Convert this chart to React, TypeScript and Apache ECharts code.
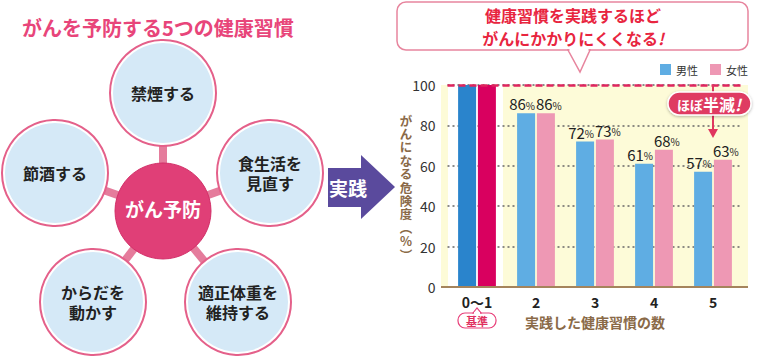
import React, { useEffect, useRef } from "react";
import * as echarts from "echarts";

const categories = ["0〜1", "2", "3", "4", "5"];
const maleValues = [100, 86, 72, 61, 57];
const femaleValues = [100, 86, 73, 68, 63];
const seriesNames = ["男性", "女性"];
const yTicks = { min: 0, max: 100, interval: 20 };
const habits = ["禁煙する", "食生活を\n見直す", "適正体重を\n維持する", "からだを\n動かす", "節酒する"];
const yTitleChars = ["が", "ん", "に", "な", "る", "危", "険", "度", "︵", "%", "︶"];

const FONT = '"Noto Sans CJK JP", "Noto Sans", sans-serif';
const BROWN = "#8a6a48";

export default function App() {
  const ref = useRef<HTMLDivElement>(null);
  useEffect(() => {
    if (!ref.current) return;
    const chart = echarts.init(ref.current, null, { renderer: "svg" });

    const center = { x: 163, y: 211 };
    const outer = [
      { x: 163, y: 93 },
      { x: 270, y: 173 },
      { x: 238, y: 302 },
      { x: 93, y: 302 },
      { x: 55, y: 173 },
    ];
    const g: any[] = [];
    g.push({
      type: "text", x: 22, y: 27,
      style: { text: "がんを予防する5つの健康習慣", fill: "#e8457a", font: `bold 20px ${FONT}`, textVerticalAlign: "middle" },
    });
    outer.forEach((o) => {
      g.push({ type: "line", shape: { x1: center.x, y1: center.y, x2: o.x, y2: o.y }, style: { stroke: "#e57c9c", lineWidth: 8 } });
    });
    outer.forEach((o, i) => {
      g.push({ type: "circle", shape: { cx: o.x, cy: o.y, r: 53 }, style: { fill: "#fff", stroke: "#e4608a", lineWidth: 2 } });
      g.push({ type: "circle", shape: { cx: o.x, cy: o.y, r: 50 }, style: { fill: "#d5e9f7" } });
      g.push({
        type: "text", x: o.x, y: o.y,
        style: { text: habits[i], fill: "#222", font: `bold 16px ${FONT}`, align: "center", verticalAlign: "middle", lineHeight: 20 },
      });
    });
    g.push({ type: "circle", shape: { cx: center.x, cy: center.y, r: 48 }, style: { fill: "#e03f77", stroke: "#d22f68", lineWidth: 1 } });
    g.push({
      type: "text", x: center.x, y: center.y - 3,
      style: { text: "がん予防", fill: "#fff", font: `bold 19px ${FONT}`, align: "center", verticalAlign: "middle" },
    });
    g.push({
      type: "polygon",
      shape: { points: [[328, 168], [361, 168], [361, 155], [395, 187], [361, 219], [361, 207], [328, 207]] },
      style: { fill: "#5a4a9d" },
    });
    g.push({
      type: "text", x: 348, y: 187,
      style: { text: "実践", fill: "#fff", font: `bold 19px ${FONT}`, align: "center", verticalAlign: "middle" },
    });
    g.push({ type: "rect", shape: { x: 397, y: 2, width: 351, height: 48, r: 9 }, style: { fill: "#fff", stroke: "#e7859e", lineWidth: 1.5 } });
    g.push({ type: "polygon", shape: { points: [[568, 50], [590, 50], [580, 72]] }, style: { fill: "#fff", stroke: "#e7859e", lineWidth: 1.5 } });
    g.push({ type: "line", shape: { x1: 569.5, y1: 50, x2: 588.5, y2: 50 }, style: { stroke: "#fff", lineWidth: 3 } });
    g.push({
      type: "text", x: 573, y: 26,
      style: {
        text: "{a|健康習慣を実践するほど}\n{a|がんにかかりにくくなる}{b|!}",
        align: "center", verticalAlign: "middle",
        rich: {
          a: { fill: "#e8253f", fontFamily: FONT, fontWeight: "bold", fontSize: 16, lineHeight: 23 },
          b: { fill: "#e8253f", fontFamily: FONT, fontWeight: "bold", fontStyle: "italic", fontSize: 16, lineHeight: 23 },
        },
      },
    });
    g.push({ type: "rect", z: -10, shape: { x: 441, y: 85, width: 307, height: 202 }, style: { fill: "#fdfbd8" } });
    g.push({ type: "rect", z: -9, shape: { x: 448, y: 85, width: 55, height: 202 }, style: { fill: "#fff" } });
    g.push({ type: "line", z: 5, shape: { x1: 441, y1: 287, x2: 748, y2: 287 }, style: { stroke: "#a5845c", lineWidth: 2 } });
    g.push({ type: "rect", z: 5, shape: { x: 458, y: 313, width: 38, height: 15, r: 7 }, style: { fill: "#fff", stroke: "#e8407a", lineWidth: 1.2 } });
    g.push({ type: "polygon", z: 5, shape: { points: [[473, 313], [477, 308], [481, 313]] }, style: { fill: "#fff", stroke: "#e8407a", lineWidth: 1.2 } });
    g.push({ type: "line", z: 6, shape: { x1: 474, y1: 313, x2: 480, y2: 313 }, style: { stroke: "#fff", lineWidth: 2 } });
    g.push({
      type: "text", z: 7, x: 477, y: 321,
      style: { text: "基準", fill: "#e0305f", font: `bold 11px ${FONT}`, align: "center", verticalAlign: "middle" },
    });
    g.push({ type: "line", z: 8, shape: { x1: 713, y1: 85, x2: 713, y2: 131 }, style: { stroke: "#e0365f", lineWidth: 2 } });
    g.push({ type: "polygon", z: 8, shape: { points: [[708, 129], [718, 129], [713, 138]] }, style: { fill: "#e0365f" } });
    g.push({
      type: "rect", z: 9, shape: { x: 668, y: 92, width: 83, height: 23, r: 11.5 },
      style: { fill: "#df3a62", stroke: "#fff", lineWidth: 1.5, shadowBlur: 3, shadowColor: "rgba(0,0,0,0.3)", shadowOffsetY: 1 },
    });
    g.push({
      type: "text", z: 10, x: 709, y: 104,
      style: {
        text: "{a|ほぼ}{b|半減}{c|!}", align: "center", verticalAlign: "middle",
        rich: {
          a: { fill: "#fff", fontFamily: FONT, fontWeight: "bold", fontSize: 13 },
          b: { fill: "#fff", fontFamily: FONT, fontWeight: "bold", fontSize: 16 },
          c: { fill: "#fff", fontFamily: FONT, fontWeight: "bold", fontStyle: "italic", fontSize: 16 },
        },
      },
    });
    const step = 13.4;
    const top = 187 - (step * (yTitleChars.length - 1)) / 2;
    yTitleChars.forEach((ch, i) => {
      g.push({
        type: "text", x: 406, y: top + i * step,
        style: { text: ch, fill: BROWN, font: `bold 12.5px ${FONT}`, align: "center", verticalAlign: "middle" },
      });
    });

    const labelFmt = (p: any) => (p.dataIndex === 0 ? "" : `{n|${p.value}}{p|%}`);
    const rich = {
      n: { fontSize: 15, color: "#222", fontFamily: FONT },
      p: { fontSize: 10, color: "#222", fontFamily: FONT, padding: [3, 0, 0, 0] },
    };

    chart.setOption({
      animation: false,
      textStyle: { fontFamily: FONT },
      grid: { left: 447.5, right: 17.5, top: 85, bottom: 71 },
      legend: {
        data: seriesNames, right: 12, top: 64, padding: 0, icon: "rect", itemWidth: 11, itemHeight: 11, itemGap: 12,
        textStyle: { fontSize: 11, color: "#333", fontFamily: FONT },
      },
      xAxis: {
        type: "category", data: categories,
        axisLine: { lineStyle: { color: "#a5845c", width: 2 } },
        axisTick: { show: false },
        axisLabel: { fontSize: 14, fontWeight: "bold", color: "#222", margin: 8 },
        name: "実践した健康習慣の数", nameLocation: "middle", nameGap: 28,
        nameTextStyle: { fontSize: 14, fontWeight: "bold", color: BROWN },
      },
      yAxis: {
        type: "value", min: yTicks.min, max: yTicks.max, interval: yTicks.interval,
        axisLine: { show: false }, axisTick: { show: false },
        axisLabel: { fontSize: 14, color: "#333", margin: 12 },
        splitLine: { lineStyle: { color: "#666", type: [2, 3], width: 1.5 } },
      },
      series: [
        {
          name: seriesNames[0], type: "bar", barWidth: 18, barGap: "10%",
          itemStyle: { color: "#5fade3" },
          data: maleValues.map((v, i) => (i === 0 ? { value: v, itemStyle: { color: "#2a84cc" } } : v)),
          label: { show: true, position: "top", distance: 2, offset: [-4, 0], formatter: labelFmt, rich },
          markLine: {
            silent: true, symbol: "none", label: { show: false },
            lineStyle: { color: "#e0245e", type: [7, 4], width: 2.5 },
            data: [{ yAxis: 100 }],
          },
        },
        {
          name: seriesNames[1], type: "bar", barWidth: 18,
          itemStyle: { color: "#ee98b4" },
          data: femaleValues.map((v, i) => (i === 0 ? { value: v, itemStyle: { color: "#d9005f" } } : v)),
          label: { show: true, position: "top", distance: 2, offset: [3, 0], formatter: labelFmt, rich },
        },
      ],
      graphic: g,
    });
    return () => chart.dispose();
  }, []);
  return <div ref={ref} style={{ width: 760, height: 358, position: "absolute", left: 0, top: 0 }} />;
}
